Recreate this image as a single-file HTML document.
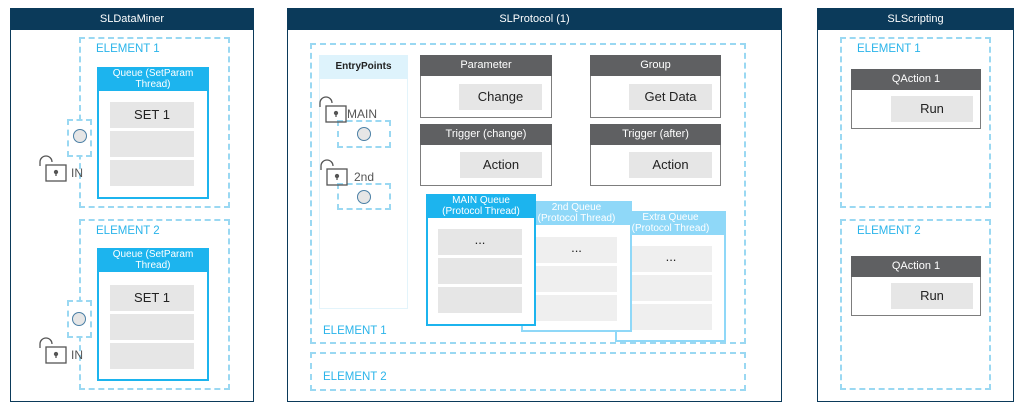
<!DOCTYPE html>
<html><head><meta charset="utf-8"><style>
*{margin:0;padding:0;box-sizing:border-box}
body{width:1024px;height:413px;background:#fff;position:relative;overflow:hidden;font-family:"Liberation Sans",sans-serif}
div{position:absolute}
.panel{border:1px solid #0b3a5a}
.ph{left:0;top:0;right:0;height:21px;background:#0b3a5a;color:#fff;font-size:11px;text-align:center;line-height:21px}
.dash{border:2px dashed #9ad8f2}
.el{font-size:11.5px;color:#2ab4ea}
.q{border:2px solid #1cb4ee;background:#fff}
.q2{border:2px solid #8fd8f8;background:#fff}
.qh{left:-2px;right:-2px;top:-2px;height:24px;background:#1cb4ee;color:#fff;font-size:10px;text-align:center;line-height:11px;padding-top:1px}
.q2 .qh{background:#8fd8f8}
.row{background:#e6e6e6;font-size:13px;text-align:center;color:#222}
.row2{background:#efefef;font-size:13px;text-align:center;color:#222}
.gb{border:1px solid #7d7d7d;background:#fff}
.gh{left:-1px;right:-1px;top:-1px;height:21px;background:#5f6062;color:#fff;font-size:11px;text-align:center;line-height:21px}
.btn{background:#e6e6e6;font-size:13px;text-align:center;color:#222}
.circ{width:14px;height:14px;border-radius:50%;border:1.5px solid #4a7fa5;background:#e6e6e6}
.lt{font-size:12px;color:#555}
</style></head><body>
<svg width="1024" height="413" style="position:absolute;left:0;top:0;z-index:5;pointer-events:none" fill="none" stroke="#555" stroke-width="1.3">
<g id="lk"><path d="M40 166 v-4 a6 6 0 0 1 12 0"/><rect x="46" y="165" width="20" height="16"/><circle cx="56" cy="172" r="1.5" fill="#555"/><line x1="56" y1="172" x2="56" y2="176"/></g>
<use href="#lk" transform="translate(0,182)"/>
<use href="#lk" transform="translate(280,-59)"/>
<use href="#lk" transform="translate(281,4)"/>
</svg>

<!-- Panel 1 -->
<div class="panel" style="left:10px;top:8px;width:244px;height:394px">
<div class="ph">SLDataMiner</div></div>
<div class="dash" style="left:79px;top:37px;width:151px;height:171px"></div>
<div class="el" style="left:96px;top:43px">ELEMENT 1</div>
<div class="q" style="left:97px;top:67px;width:112px;height:132px"><div class="qh">Queue (SetParam<br>Thread)</div></div>
<div class="row" style="left:110px;top:102px;width:84px;height:26px;line-height:26px">SET 1</div>
<div class="row" style="left:110px;top:131px;width:84px;height:26px"></div>
<div class="row" style="left:110px;top:160px;width:84px;height:26px"></div>
<div class="dash" style="left:67px;top:119px;width:25px;height:38px;background:#fff"></div>
<div class="circ" style="left:73px;top:129px"></div>
<div class="lt" style="left:71px;top:166px">IN</div>

<div class="dash" style="left:79px;top:219px;width:151px;height:171px"></div>
<div class="el" style="left:96px;top:225px">ELEMENT 2</div>
<div class="q" style="left:97px;top:248px;width:112px;height:133px"><div class="qh">Queue (SetParam<br>Thread)</div></div>
<div class="row" style="left:110px;top:285px;width:84px;height:26px;line-height:26px">SET 1</div>
<div class="row" style="left:110px;top:314px;width:84px;height:26px"></div>
<div class="row" style="left:110px;top:343px;width:84px;height:26px"></div>
<div class="dash" style="left:67px;top:300px;width:25px;height:38px;background:#fff"></div>
<div class="circ" style="left:72px;top:312px"></div>
<div class="lt" style="left:71px;top:348px">IN</div>

<!-- Panel 2 -->
<div class="panel" style="left:287px;top:8px;width:495px;height:394px">
<div class="ph">SLProtocol (1)</div></div>
<div class="dash" style="left:310px;top:43px;width:436px;height:301px"></div>
<div class="el" style="left:323px;top:325px">ELEMENT 1</div>
<div class="dash" style="left:310px;top:352px;width:436px;height:39px"></div>
<div class="el" style="left:323px;top:371px">ELEMENT 2</div>

<div style="left:319px;top:55px;width:89px;height:254px;border:1px solid #e3f4fb"></div>
<div style="left:319px;top:55px;width:89px;height:24px;background:#def3fc;font-size:10px;font-weight:bold;text-align:center;line-height:24px;color:#222">EntryPoints</div>
<div class="lt" style="left:347px;top:107px">MAIN</div>
<div class="dash" style="left:337px;top:120px;width:54px;height:28px"></div>
<div class="circ" style="left:357px;top:127px"></div>
<div class="lt" style="left:354px;top:170px">2nd</div>
<div class="dash" style="left:337px;top:183px;width:54px;height:27px"></div>
<div class="circ" style="left:357px;top:190px"></div>

<div class="gb" style="left:420px;top:55px;width:132px;height:63px"><div class="gh">Parameter</div></div>
<div class="btn" style="left:459px;top:84px;width:83px;height:26px;line-height:26px">Change</div>
<div class="gb" style="left:420px;top:124px;width:132px;height:62px"><div class="gh">Trigger (change)</div></div>
<div class="btn" style="left:460px;top:152px;width:82px;height:26px;line-height:26px">Action</div>
<div class="gb" style="left:590px;top:55px;width:131px;height:63px"><div class="gh">Group</div></div>
<div class="btn" style="left:629px;top:84px;width:83px;height:26px;line-height:26px">Get Data</div>
<div class="gb" style="left:590px;top:124px;width:131px;height:62px"><div class="gh">Trigger (after)</div></div>
<div class="btn" style="left:629px;top:152px;width:83px;height:26px;line-height:26px">Action</div>

<div class="q2" style="left:615px;top:211px;width:111px;height:131px"><div class="qh">Extra Queue<br>(Protocol Thread)</div></div>
<div class="row2" style="left:630px;top:246px;width:82px;height:26px;line-height:22px">...</div>
<div class="row2" style="left:630px;top:275px;width:82px;height:26px"></div>
<div class="row2" style="left:630px;top:304px;width:82px;height:26px"></div>
<div class="q2" style="left:521px;top:201px;width:111px;height:131px"><div class="qh">2nd Queue<br>(Protocol Thread)</div></div>
<div class="row2" style="left:536px;top:237px;width:81px;height:26px;line-height:22px">...</div>
<div class="row2" style="left:536px;top:266px;width:81px;height:26px"></div>
<div class="row2" style="left:536px;top:295px;width:81px;height:26px"></div>
<div class="q" style="left:426px;top:194px;width:110px;height:132px"><div class="qh">MAIN Queue<br>(Protocol Thread)</div></div>
<div class="row" style="left:438px;top:229px;width:84px;height:26px;line-height:22px">...</div>
<div class="row" style="left:438px;top:258px;width:84px;height:26px"></div>
<div class="row" style="left:438px;top:287px;width:84px;height:26px"></div>

<!-- Panel 3 -->
<div class="panel" style="left:817px;top:8px;width:197px;height:394px">
<div class="ph">SLScripting</div></div>
<div class="dash" style="left:840px;top:37px;width:151px;height:171px"></div>
<div class="el" style="left:857px;top:43px">ELEMENT 1</div>
<div class="gb" style="left:851px;top:69px;width:130px;height:60px"><div class="gh">QAction 1</div></div>
<div class="btn" style="left:891px;top:96px;width:82px;height:26px;line-height:26px">Run</div>
<div class="dash" style="left:840px;top:219px;width:151px;height:171px"></div>
<div class="el" style="left:857px;top:225px">ELEMENT 2</div>
<div class="gb" style="left:851px;top:256px;width:130px;height:60px"><div class="gh">QAction 1</div></div>
<div class="btn" style="left:891px;top:283px;width:82px;height:26px;line-height:26px">Run</div>
</body></html>
